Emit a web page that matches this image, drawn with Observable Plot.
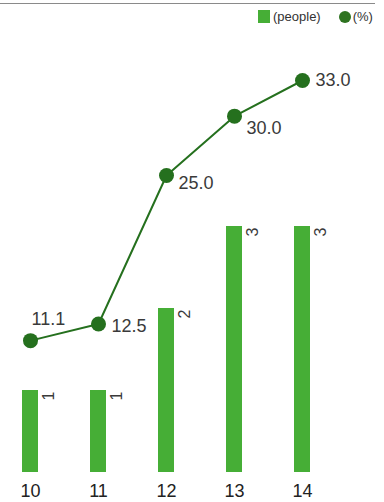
<!DOCTYPE html>
<html>
<head>
<meta charset="utf-8">
<script src="https://cdn.jsdelivr.net/npm/d3@7"></script>
<script src="https://cdn.jsdelivr.net/npm/@observablehq/plot@0.6"></script>
<style>
  html, body { margin: 0; padding: 0; background: #fff; }
  #wrap { position: relative; width: 384px; height: 502px; overflow: hidden; font-family: "Liberation Sans", Arial, sans-serif; }
  #rule { position: absolute; left: 0; top: 3px; width: 375px; height: 0; border-top: 1.5px solid #8a8a8a; }
  #legend { position: absolute; top: 9px; left: 258px; font-size: 13px; color: #333; display: flex; align-items: center; white-space: nowrap; }
  #legend .sw { display: inline-block; width: 12px; height: 13px; background: #46ae36; margin-right: 3px; }
  #legend .dot { display: inline-block; width: 12px; height: 12px; border-radius: 50%; background: #2e7320; margin-left: 18px; margin-right: 2px; }
  .layer { position: absolute; left: 0; top: 0; }
</style>
</head>
<body>
<div id="wrap">
  <div id="rule"></div>
  <div id="legend"><span class="sw"></span><span>(people)</span><span class="dot"></span><span>(%)</span></div>
  <div id="bars" class="layer"></div>
  <div id="pcts" class="layer"></div>
</div>
<script>
const years = ["10", "11", "12", "13", "14"];
const people = [1, 1, 2, 3, 3];
const percent = [11.1, 12.5, 25.0, 30.0, 33.0];

const barColor = "#46ae36";
const lineColor = "#25701e";

const rows = years.map((y, i) => ({year: y, people: people[i], pct: percent[i]}));

const xScale = {type: "band", domain: years, range: [-12, 344], paddingInner: 0.765, paddingOuter: 0.5, axis: null};

const barsPlot = Plot.plot({
  width: 384,
  height: 502,
  marginTop: 0, marginLeft: 0, marginRight: 0, marginBottom: 30,
  style: {fontFamily: "'Liberation Sans', Arial, sans-serif", background: "transparent", color: "#333"},
  x: xScale,
  y: {domain: [0, 3], range: [472, 226], axis: null},
  marks: [
    Plot.barY(rows, {x: "year", y: "people", fill: barColor}),
    Plot.text(rows, {x: "year", y: "people", text: d => String(d.people), rotate: -90, textAnchor: "end", dx: 18, dy: 1, fontSize: 16, fill: "#3a3a3a", fontFamily: "'Liberation Sans', Arial, sans-serif"}),
    Plot.axisX({anchor: "bottom", tickSize: 0, tickPadding: 12, fontSize: 18, fill: "#222", label: null})
  ]
});
document.getElementById("bars").appendChild(barsPlot);

const labelFont = "'Liberation Sans Narrow', 'Liberation Sans', Arial, sans-serif";
const lbl = (year, opts) => Plot.text(rows.filter(d => d.year === year), {
  x: "year", y: "pct", text: d => d.pct.toFixed(1), textAnchor: "start",
  fontSize: 18, fill: "#3a3a3a", fontFamily: labelFont, ...opts
});

const pctPlot = Plot.plot({
  width: 384,
  height: 502,
  marginTop: 0, marginLeft: 0, marginRight: 0, marginBottom: 30,
  style: {background: "transparent"},
  x: xScale,
  y: {domain: [0, 33], range: [472, 80], axis: null},
  marks: [
    Plot.line(rows, {x: "year", y: "pct", stroke: lineColor, strokeWidth: 2}),
    Plot.dot(rows, {x: "year", y: "pct", r: 7.5, fill: lineColor}),
    lbl("10", {dx: 1, dy: -21}),
    lbl("11", {dx: 13, dy: 2}),
    lbl("12", {dx: 12, dy: 8}),
    lbl("13", {dx: 12, dy: 12}),
    lbl("14", {dx: 13, dy: 0})
  ]
});
document.getElementById("pcts").appendChild(pctPlot);
</script>
</body>
</html>
